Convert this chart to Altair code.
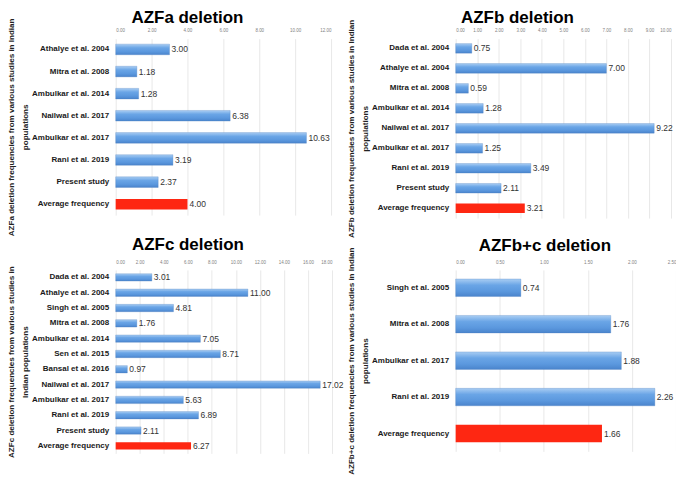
import altair as alt
import pandas as pd

azfa_labels = ["Athalye et al. 2004", "Mitra et al. 2008", "Ambulkar et al. 2014", "Nailwal et al. 2017",
               "Ambulkar et al. 2017", "Rani et al. 2019", "Present study", "Average frequency"]
azfa_values = [3.00, 1.18, 1.28, 6.38, 10.63, 3.19, 2.37, 4.00]

azfb_labels = ["Dada et al. 2004", "Athalye et al. 2004", "Mitra et al. 2008", "Ambulkar et al. 2014",
               "Nailwal et al. 2017", "Ambulkar et al. 2017", "Rani et al. 2019", "Present study", "Average frequency"]
azfb_values = [0.75, 7.00, 0.59, 1.28, 9.22, 1.25, 3.49, 2.11, 3.21]

azfc_labels = ["Dada et al. 2004", "Athalye et al. 2004", "Singh et al. 2005", "Mitra et al. 2008",
               "Ambulkar et al. 2014", "Sen et al. 2015", "Bansal et al. 2016", "Nailwal et al. 2017",
               "Ambulkar et al. 2017", "Rani et al. 2019", "Present study", "Average frequency"]
azfc_values = [3.01, 11.00, 4.81, 1.76, 7.05, 8.71, 0.97, 17.02, 5.63, 6.89, 2.11, 6.27]

azfbc_labels = ["Singh et al. 2005", "Mitra et al. 2008", "Ambulkar et al. 2017", "Rani et al. 2019",
                "Average frequency"]
azfbc_values = [0.74, 1.76, 1.88, 2.26, 1.66]

azfa_ticks = [0, 2, 4, 6, 8, 10, 12]
azfb_ticks = [0, 1, 2, 3, 4, 5, 6, 7, 8, 9, 10]
azfc_ticks = [0, 2, 4, 6, 8, 10, 12, 14, 16, 18]
azfbc_ticks = [0, 0.5, 1.0, 1.5, 2.0, 2.5]

FONT = "Liberation Sans"

blue_grad = alt.Gradient(
    gradient="linear",
    stops=[alt.GradientStop(color="#a9cdf3", offset=0),
           alt.GradientStop(color="#6aa5e6", offset=0.35),
           alt.GradientStop(color="#5b98de", offset=0.7),
           alt.GradientStop(color="#4a84cc", offset=1)],
    x1=0, x2=0, y1=0, y2=1)


def panel(labels, values, ticks, title, ytitle, width, height, title_dx, title_y, label_pad):
    df = pd.DataFrame({"study": labels, "value": values})
    df["avg"] = df["study"] == "Average frequency"
    y = alt.Y("study:N", sort=labels,
              scale=alt.Scale(paddingInner=0.52, paddingOuter=0.25),
              axis=alt.Axis(title=ytitle, labelFont=FONT, labelFontSize=8, labelFontWeight="bold",
                            labelColor="#1a1a1a", labelPadding=7, ticks=False, domain=False,
                            minExtent=80, maxExtent=80, labelLimit=200,
                            titleFont=FONT, titleFontSize=8.1, titleFontWeight="bold",
                            titleColor="#222222", titlePadding=6, titleLineHeight=14))
    x = alt.X("value:Q",
              scale=alt.Scale(domain=[ticks[0], ticks[-1]], nice=False, zero=True),
              axis=alt.Axis(orient="top", title=None, values=ticks, format=".2f",
                            labelFontSize=4.5, labelColor="#7f7f7f", labelFont=FONT,
                            ticks=False, domain=False, labelPadding=label_pad,
                            grid=True, gridColor="#e2e2e2", gridWidth=0.8))
    base = alt.Chart(df).encode(y=y, x=x)
    blue = base.transform_filter("!datum.avg").mark_bar(color=blue_grad, stroke="#4a7fc0", strokeWidth=0.3)
    red = base.transform_filter("datum.avg").mark_bar(color="#fe2712")
    txt = base.mark_text(align="left", dx=2, fontSize=8.5, color="#333333",
                         font=FONT).encode(text=alt.Text("value:Q", format=".2f"))
    ttl = alt.Chart(pd.DataFrame({"t": [title]})).mark_text(
        fontSize=17, font=FONT, fontWeight="bold", color="#000000", align="center", baseline="middle"
    ).encode(text="t:N", x=alt.value(width / 2 + title_dx), y=alt.value(title_y))
    return alt.layer(blue, red, txt, ttl).properties(width=width, height=height)


a = panel(azfa_labels, azfa_values, azfa_ticks, "AZFa deletion",
          ["AZFa deletion frequencies from various studies in Indian", "populations"],
          216, 177, -36, -21, 6)
b = panel(azfb_labels, azfb_values, azfb_ticks, "AZFb deletion",
          ["AZFb deletion frequencies from various studies in Indian", "populations"],
          216, 180, -46, -21, 6)
c = panel(azfc_labels, azfc_values, azfc_ticks, "AZFc deletion",
          ["AZFc deletion frequencies from various studies in", "Indian populations"],
          217, 184, -36, -25, 5)
d = panel(azfbc_labels, azfbc_values, azfbc_ticks, "AZFb+c deletion",
          ["AZFb+c deletion frequencies from various studies in  Indian", "populations"],
          221, 182, -21, -24, 5)

chart = alt.concat(a, b, c, d, columns=2, bounds="flush",
                   spacing={"row": 52, "column": 124}).properties(padding=0).configure_view(stroke=None)

chart.save("out.html", embed_options={"renderer": "svg", "actions": False})
